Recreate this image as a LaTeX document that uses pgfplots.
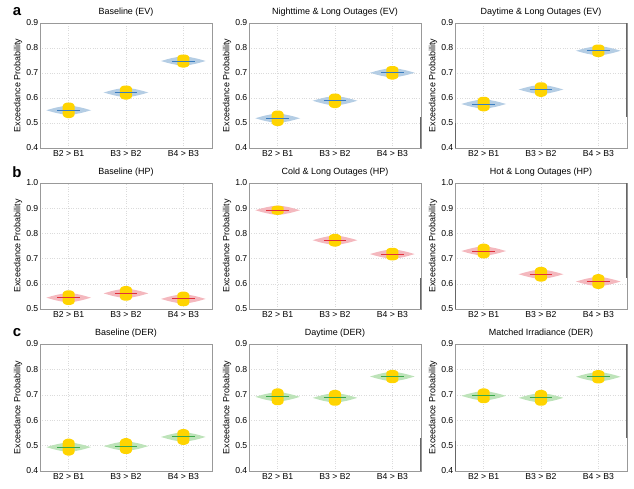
\documentclass[border=0pt]{standalone}
\usepackage{fontspec}
\setmainfont{Liberation Sans}
\usepackage{pgfplots}
\usepackage{pgfplotstable}
\pgfplotsset{compat=1.18}

\definecolor{vblue}{HTML}{B4CDE4}
\definecolor{lblue}{HTML}{3A7DC0}
\definecolor{vred}{HTML}{F4B8BE}
\definecolor{lred}{HTML}{E0303A}
\definecolor{vgreen}{HTML}{BDE3B9}
\definecolor{lgreen}{HTML}{3AA84A}
\definecolor{vgold}{HTML}{FFD400}
\tikzset{edge/.style={black!60, line width=1.2bp}}

% horizontal violin outline (dx in category units, dy normalised)
\pgfplotstableread{
dx dy
-0.39 0
-0.34 0.18
-0.28 0.40
-0.20 0.65
-0.10 0.90
0 1
0.10 0.90
0.20 0.65
0.28 0.40
0.34 0.18
0.39 0
0.34 -0.18
0.28 -0.40
0.20 -0.65
0.10 -0.90
0 -1
-0.10 -0.90
-0.20 -0.65
-0.28 -0.40
-0.34 -0.18
-0.39 0
}\vshape
% jitter cloud outline (normalised)
\pgfplotstableread{
dx dy
-0.25 1
0.25 1
0.55 0.93
0.8 0.82
0.95 0.65
1 0.45
1 -0.45
0.95 -0.65
0.8 -0.82
0.55 -0.93
0.25 -1
-0.25 -1
-0.55 -0.93
-0.8 -0.82
-0.95 -0.65
-1 -0.45
-1 0.45
-0.95 0.65
-0.8 0.82
-0.55 0.93
-0.25 1
}\bshape
\pgfplotstableread{
dx dy
-1 0
1 0
}\mline

% #1 x, #2 median, #3 spread, #4 fill, #5 line
\newcommand{\vio}[5]{%
 \addplot[fill=#4, draw=none] table[x expr=\thisrow{dx}+#1, y expr=\thisrow{dy}*0.018+#2]{\vshape};
 \addplot[fill=vgold, draw=none] table[x expr=\thisrow{dx}*0.105+#1, y expr=\thisrow{dy}*#3+#2]{\bshape};
 \addplot[draw=#5, line width=1bp] table[x expr=\thisrow{dx}*0.2+#1, y expr=#2]{\mline};
}

\pgfplotsset{panel/.style={
 width=172bp, scale only axis, anchor=south west,
 xmin=0.5, xmax=3.5, xtick={1,2,3},
 xticklabels={B2 > B1, B3 > B2, B4 > B3},
 ylabel={Exceedance Probability},
 grid=major, major grid style={dotted, black!14, line width=0.5bp},
 axis line style={black!40, line width=0.8bp},
 major tick length=0pt,
 tick label style={font=\fontsize{8.7}{10}\selectfont, text=black},
 xticklabel style={inner sep=1.5bp, yshift=-1bp},
 yticklabel style={inner sep=1.5bp, /pgf/number format/.cd, fixed, fixed zerofill, precision=1},
 /pgf/number format/assume math mode=true,
 label style={font=\fontsize{9}{10}\selectfont},
 ylabel style={yshift=-1bp},
 title style={font=\fontsize{9}{10}\selectfont, yshift=-3bp},
}, rowa/.style={height=125bp, ymin=0.4, ymax=0.9, ytick={0.4,0.5,0.6,0.7,0.8,0.9}},
rowb/.style={height=126bp, ymin=0.5, ymax=1.0, ytick={0.5,0.6,0.7,0.8,0.9,1.0}},
rowc/.style={height=127bp, ymin=0.4, ymax=0.9, ytick={0.4,0.5,0.6,0.7,0.8,0.9}}}

\begin{document}
\begin{tikzpicture}
\useasboundingbox (0,0) rectangle (634bp,-489bp);
% row a
\begin{axis}[panel, rowa, at={(40bp,-148bp)}, title={Baseline (EV)}]
\vio{1}{0.551}{0.031}{vblue}{lblue}
\vio{2}{0.622}{0.028}{vblue}{lblue}
\vio{3}{0.748}{0.026}{vblue}{lblue}
\end{axis}
\begin{axis}[panel, rowa, at={(249bp,-148bp)}, title={Nighttime \& Long Outages (EV)}]
\vio{1}{0.519}{0.031}{vblue}{lblue}
\vio{2}{0.589}{0.029}{vblue}{lblue}
\vio{3}{0.701}{0.027}{vblue}{lblue}
\draw[edge] (rel axis cs:1,0.25) -- (rel axis cs:1,0);
\end{axis}
\begin{axis}[panel, rowa, at={(455bp,-148bp)}, title={Daytime \& Long Outages (EV)}]
\vio{1}{0.576}{0.029}{vblue}{lblue}
\vio{2}{0.634}{0.029}{vblue}{lblue}
\vio{3}{0.789}{0.025}{vblue}{lblue}
\draw[edge] (rel axis cs:1,1.02) -- (rel axis cs:1,0.25);
\draw[edge] (rel axis cs:0,0.2) -- (rel axis cs:0,0);
\end{axis}
% row b
\begin{axis}[panel, rowb, at={(40bp,-309bp)}, title={Baseline (HP)}]
\vio{1}{0.545}{0.029}{vred}{lred}
\vio{2}{0.562}{0.029}{vred}{lred}
\vio{3}{0.540}{0.029}{vred}{lred}
\end{axis}
\begin{axis}[panel, rowb, at={(249bp,-309bp)}, title={Cold \& Long Outages (HP)}]
\vio{1}{0.892}{0.018}{vred}{lred}
\vio{2}{0.773}{0.025}{vred}{lred}
\vio{3}{0.718}{0.025}{vred}{lred}
\draw[edge] (rel axis cs:1,0.25) -- (rel axis cs:1,0);
\end{axis}
\begin{axis}[panel, rowb, at={(455bp,-309bp)}, title={Hot \& Long Outages (HP)}]
\vio{1}{0.730}{0.029}{vred}{lred}
\vio{2}{0.638}{0.029}{vred}{lred}
\vio{3}{0.609}{0.029}{vred}{lred}
\draw[edge] (rel axis cs:1,1) -- (rel axis cs:1,0.25);
\draw[edge] (rel axis cs:0,0.23) -- (rel axis cs:0,0);
\end{axis}
% row c
\begin{axis}[panel, rowc, at={(40bp,-471bp)}, title={Baseline (DER)}]
\vio{1}{0.494}{0.033}{vgreen}{lgreen}
\vio{2}{0.498}{0.031}{vgreen}{lgreen}
\vio{3}{0.534}{0.031}{vgreen}{lgreen}
\end{axis}
\begin{axis}[panel, rowc, at={(249bp,-471bp)}, title={Daytime (DER)}]
\vio{1}{0.692}{0.033}{vgreen}{lgreen}
\vio{2}{0.688}{0.031}{vgreen}{lgreen}
\vio{3}{0.772}{0.026}{vgreen}{lgreen}
\draw[edge] (rel axis cs:1,0.26) -- (rel axis cs:1,0);
\end{axis}
\begin{axis}[panel, rowc, at={(455bp,-471bp)}, title={Matched Irradiance (DER)}]
\vio{1}{0.696}{0.029}{vgreen}{lgreen}
\vio{2}{0.688}{0.031}{vgreen}{lgreen}
\vio{3}{0.771}{0.026}{vgreen}{lgreen}
\draw[edge] (rel axis cs:1,1) -- (rel axis cs:1,0.26);
\draw[edge] (rel axis cs:0,0.24) -- (rel axis cs:0,0);
\end{axis}
\node[font=\fontsize{15}{15}\selectfont\bfseries] at (17bp,-12bp) {a};
\node[font=\fontsize{15}{15}\selectfont\bfseries] at (17bp,-172bp) {b};
\node[font=\fontsize{15}{15}\selectfont\bfseries] at (17bp,-333bp) {c};
\end{tikzpicture}
\end{document}
